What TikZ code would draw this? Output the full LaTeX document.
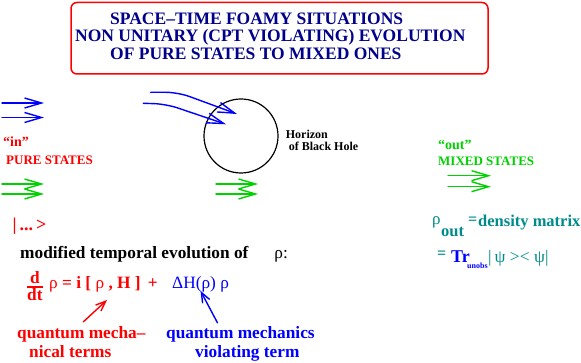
\documentclass[tikz,border=0pt]{standalone}
\usepackage{fontspec}
\setmainfont{Liberation Serif}
\usetikzlibrary{arrows.meta}
\definecolor{titlenavy}{RGB}{0,0,139}
\definecolor{bhred}{RGB}{255,0,0}
\definecolor{bhblue}{RGB}{0,0,255}
\definecolor{bhgreen}{RGB}{0,210,0}
\definecolor{bhteal}{RGB}{0,139,139}
\newcommand{\rhoup}{{\mdseries ρ}}

\begin{document}
\begin{tikzpicture}[x=1pt, y=-1pt, line join=round, line cap=round,
		lbl/.style={anchor=base west, inner sep=0pt, font=\bfseries\fontsize{17.3}{19}\selectfont},
		titletxt/.style={lbl, titlenavy, font=\bfseries\fontsize{17.5}{18}\selectfont},
		smalltxt/.style={lbl, font=\bfseries\fontsize{13}{14}\selectfont},
		fatarrow/.style={-{Straight Barb[length=17pt,width=10pt]}, line width=1.4pt},
		thinarrow/.style={-{Straight Barb[length=10pt,width=8pt]}, line width=1.4pt}]
	\useasboundingbox (0,0) rectangle (581,363);
	% title box
	\draw[bhred, line width=1.5pt, rounded corners=6pt] (71,2.5) rectangle (488,74);
	\node[titletxt] (title1) at (110,24.3) {SPACE–TIME FOAMY SITUATIONS};
	\node[titletxt] (title2) at (75,41.8) {NON UNITARY (CPT VIOLATING) EVOLUTION};
	\node[titletxt] (title3) at (110,60) {OF PURE STATES TO MIXED ONES};
	% incoming and outgoing states
	\foreach \y in {103,117.5}
		\draw[fatarrow, bhblue] (2,\y) -- (44,\y);
	\foreach \y in {184,194}{
		\draw[fatarrow, bhgreen] (2,\y) -- (44,\y);
		\draw[fatarrow, bhgreen] (216,\y) -- (258,\y);
	}
	\foreach \y in {175.7,186.7}
		\draw[fatarrow, bhgreen] (448,\y) -- (491,\y);
	\node[smalltxt, bhred, font=\bfseries\fontsize{14}{14}\selectfont] (inlbl) at (3,147) {``in''};
	\node[smalltxt, bhred] (purelbl) at (6,165) {PURE STATES};
	\node[smalltxt, bhgreen, font=\bfseries\fontsize{14}{14}\selectfont] (outlbl) at (438,150) {``out''};
	\node[smalltxt, bhgreen] (mixedlbl) at (438,165.7) {MIXED STATES};
	% black hole
	\node[circle, draw, line width=1.2pt, minimum size=74pt, inner sep=0pt] (bh) at (241,136) {};
	\node[lbl, font=\bfseries\fontsize{12}{12}\selectfont] (horizon1) at (285.7,138.8) {Horizon};
	\node[lbl, font=\bfseries\fontsize{12}{12}\selectfont] (horizon2) at (288.7,150.3) {of Black Hole};
	\coordinate (fall1) at (237,114);
	\coordinate (fall2) at (226,124.3);
	\draw[fatarrow, bhblue, rounded corners=12pt] (150.7,92.3) -- (178,92.3) -- (fall1);
	\draw[fatarrow, bhblue, rounded corners=12pt] (143.3,103.3) -- (166,104) -- (fall2);
	% evolution of the density matrix
	\node[lbl, bhred, font=\bfseries\fontsize{18}{18}\selectfont] (ket) at (12.5,231) {|\,...\,>};
	\node[lbl] (modlbl) at (20,259) {modified temporal evolution of\quad\ \ \rhoup{\mdseries :}};
	\node[lbl, bhred] (dnum) at (30,284) {d};
	\node[lbl, bhred] (dden) at (27,300.5) {dt};
	\draw[bhred, line width=1.6pt, line cap=butt] ([yshift=1.5pt]dden.north west) -- ([yshift=1.5pt]dden.north east);
	\node[lbl, bhred] (eqqm) at (49,289) {\rhoup{} = i [ \rhoup{} , H ]\, +};
	\node[lbl, bhblue, font=\mdseries\fontsize{17.3}{19}\selectfont] (eqdh) at (172,289) {ΔH(ρ) ρ};
	\node[lbl, bhred] (qmt1) at (17,338) {quantum mecha–};
	\node[lbl, bhred] (qmt2) at (29,357) {nical terms};
	\node[lbl, bhblue] (qmv1) at (166,338) {quantum mechanics};
	\node[lbl, bhblue] (qmv2) at (195,357) {violating term};
	\coordinate (qmtip) at (107,300);
	\draw[thinarrow, bhred] ([shift={(2,-4)}]qmt1.north) -- (qmtip);
	\draw[thinarrow, bhblue] ([shift={(-23,-3)}]qmv1.north) -- ([yshift=2pt]eqdh.south);
	% density matrix
	\node[lbl, bhteal, font=\mdseries\fontsize{17}{19}\selectfont] (rhoout) at (432,225) {ρ};
	\node[lbl, bhteal, font=\bfseries\fontsize{16.5}{19}\selectfont] (outsub) at (441,237) {out};
	\node[lbl, bhteal, font=\bfseries\fontsize{16}{19}\selectfont] (outeq) at (468,225) {=};
	\node[lbl, bhteal, font=\bfseries\fontsize{16.5}{19}\selectfont] (denslbl) at (478,226.7) {density matrix};
	\node[lbl, bhteal, font=\bfseries\fontsize{16}{19}\selectfont] (treq) at (437,259) {=};
	\node[lbl, bhblue, font=\bfseries\fontsize{18}{19}\selectfont] (trlbl) at (451,263) {Tr};
	\node[lbl, bhblue, font=\bfseries\fontsize{8}{9}\selectfont] (unobs) at (467,269) {unobs};
	\node[lbl, bhteal, font=\mdseries\fontsize{17.5}{19}\selectfont] (psipsi) at (488,263) {|\,ψ >< ψ|};
\end{tikzpicture}
\end{document}
